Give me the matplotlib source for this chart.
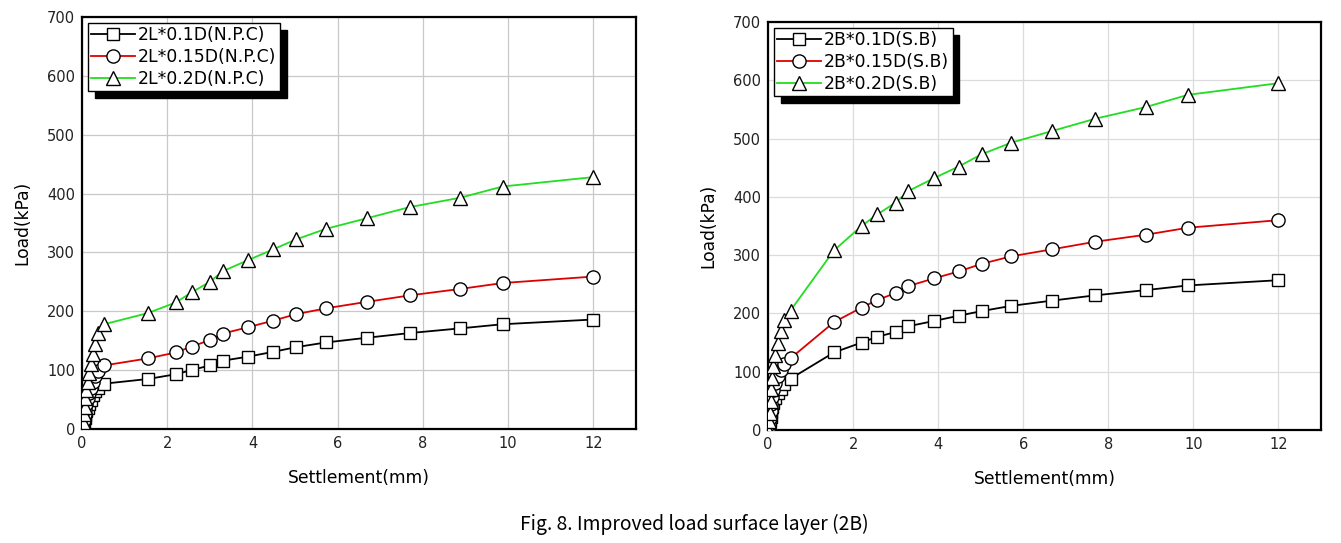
import matplotlib
matplotlib.use("Agg")
import matplotlib.pyplot as plt

plt.rcParams['font.family'] = ['DejaVu Sans']

# ---- data: left panel (2L, N.P.C) ----
left_x_black = [0, 0.02, 0.04, 0.06, 0.08, 0.1, 0.13, 0.16, 0.2, 0.25, 0.31, 0.38,
                0.52, 1.55, 2.2, 2.57, 3.0, 3.3, 3.9, 4.48, 5.02, 5.72, 6.68, 7.69, 8.88, 9.87, 12.0]
left_y_black = [0, 6, 12, 18, 24, 30, 36, 43, 50, 57, 64, 70,
                77, 85, 93, 100, 108, 116, 123, 131, 139, 147, 155, 163, 171, 178, 186]
left_x_red = [0, 0.02, 0.04, 0.06, 0.08, 0.1, 0.13, 0.16, 0.2, 0.25, 0.31, 0.38,
              0.52, 1.55, 2.2, 2.57, 3.0, 3.3, 3.9, 4.48, 5.02, 5.72, 6.68, 7.69, 8.88, 9.87, 12.0]
left_y_red = [0, 8, 16, 25, 34, 43, 52, 61, 70, 80, 90, 99,
              108, 120, 130, 140, 151, 162, 173, 184, 195, 205, 216, 227, 238, 248, 259]
left_x_green = [0, 0.02, 0.04, 0.06, 0.08, 0.1, 0.13, 0.16, 0.2, 0.25, 0.31, 0.38,
                0.52, 1.55, 2.2, 2.57, 3.0, 3.3, 3.9, 4.48, 5.02, 5.72, 6.68, 7.69, 8.88, 9.87, 12.0]
left_y_green = [0, 12, 25, 38, 52, 66, 80, 95, 110, 127, 145, 163,
                178, 197, 215, 232, 250, 268, 287, 305, 322, 340, 358, 377, 393, 412, 428]
left_labels = ['2L*0.1D(N.P.C)', '2L*0.15D(N.P.C)', '2L*0.2D(N.P.C)']

# ---- data: right panel (2B, S.B) ----
right_x_black = [0, 0.02, 0.04, 0.06, 0.08, 0.1, 0.12, 0.16, 0.23, 0.31, 0.38,
                 0.53, 1.55, 2.2, 2.57, 3.0, 3.3, 3.9, 4.48, 5.02, 5.72, 6.68, 7.69, 8.88, 9.87, 12.0]
right_y_black = [0, 7, 15, 23, 31, 39, 47, 55, 63, 71, 79,
                 88, 133, 150, 160, 168, 178, 187, 196, 204, 213, 222, 231, 240, 248, 257]
right_x_red = [0, 0.02, 0.04, 0.06, 0.08, 0.1, 0.12, 0.16, 0.23, 0.31, 0.38,
               0.53, 1.55, 2.2, 2.57, 3.0, 3.3, 3.9, 4.48, 5.02, 5.72, 6.68, 7.69, 8.88, 9.87, 12.0]
right_y_red = [0, 10, 20, 32, 44, 56, 68, 80, 92, 103, 113,
               123, 185, 210, 223, 235, 247, 260, 272, 285, 298, 310, 323, 335, 347, 360]
right_x_green = [0, 0.02, 0.04, 0.06, 0.08, 0.1, 0.12, 0.16, 0.23, 0.31, 0.38,
                 0.53, 1.55, 2.2, 2.57, 3.0, 3.3, 3.9, 4.48, 5.02, 5.72, 6.68, 7.69, 8.88, 9.87, 12.0]
right_y_green = [0, 15, 30, 50, 70, 90, 109, 129, 149, 169, 189,
                 205, 308, 350, 370, 390, 410, 432, 452, 473, 493, 513, 534, 554, 575, 595]
right_labels = ['2B*0.1D(S.B)', '2B*0.15D(S.B)', '2B*0.2D(S.B)']

x_ticks = [0, 2, 4, 6, 8, 10, 12]
y_ticks = [0, 100, 200, 300, 400, 500, 600, 700]

colors = ['#000000', '#dd0000', '#22dd22']
markers = ['s', 'o', '^']
msizes = [9, 9.5, 10.5]

W, H = 1341, 543
fig = plt.figure(figsize=(W / 100, H / 100), dpi=100)

ax1 = fig.add_axes([82 / W, 1 - 429 / H, (636 - 82) / W, (429 - 17) / H])
ax2 = fig.add_axes([768 / W, 1 - 430 / H, (1321 - 768) / W, (430 - 22) / H])

panels = [
    (ax1, [(left_x_black, left_y_black), (left_x_red, left_y_red), (left_x_green, left_y_green)], left_labels, '#c8c8c8'),
    (ax2, [(right_x_black, right_y_black), (right_x_red, right_y_red), (right_x_green, right_y_green)], right_labels, '#dcdcdc'),
]

for ax, series, labels, gcol in panels:
    for (xs, ys), lab, c, m, ms in zip(series, labels, colors, markers, msizes):
        ax.plot(xs, ys, color=c, lw=1.3, marker=m, markersize=ms,
                markerfacecolor='white', markeredgecolor='black',
                markeredgewidth=1.0, label=lab, zorder=3)
    ax.set_xlim(0, 13)
    ax.set_ylim(0, 700)
    ax.set_xticks(x_ticks)
    ax.set_yticks(y_ticks)
    ax.grid(True, color=gcol, lw=0.9)
    ax.set_axisbelow(True)
    for sp in ax.spines.values():
        sp.set_linewidth(1.6)
        sp.set_color('black')
    ax.tick_params(length=0, labelsize=10.5, pad=5, colors='#222222')
    ax.set_xlabel('Settlement(mm)', fontsize=12.3, labelpad=13)
    ax.set_ylabel('Load(kPa)', fontsize=12.3, labelpad=11)
    leg = ax.legend(loc='upper left', fontsize=12.4, frameon=True, fancybox=False,
                    edgecolor='black', framealpha=1,
                    shadow={'color': 'black', 'alpha': 1, 'ox': 5, 'oy': -5},
                    handlelength=2.5, handletextpad=0.2, labelspacing=0.22,
                    borderpad=0.2, borderaxespad=0.35)
    leg.get_frame().set_linewidth(1.0)

fig.text(694 / W, 1 - 524 / H, 'Fig. 8. Improved load surface layer (2B)',
         ha='center', va='center', fontsize=13.9,
         family=['Noto Sans CJK KR', 'DejaVu Sans'])

fig.savefig('out.png', dpi=100)
